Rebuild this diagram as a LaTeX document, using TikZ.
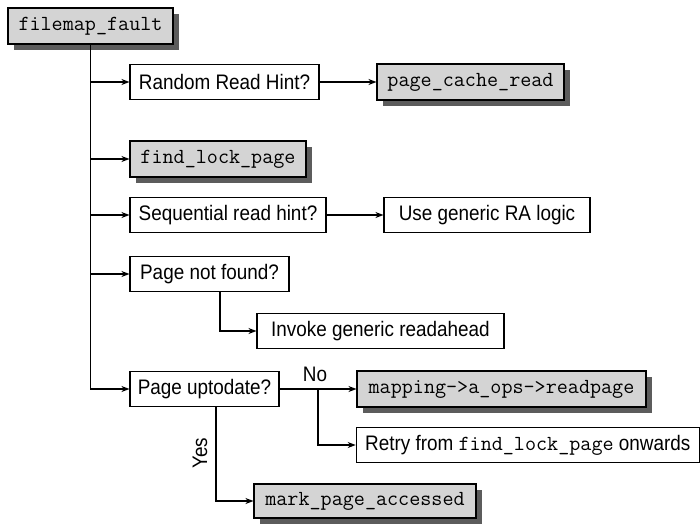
\documentclass[tikz,border=0pt]{standalone}
\usepackage{fontspec}
\setmainfont{Liberation Sans}[FakeStretch=0.9]
\usetikzlibrary{arrows.meta,shadows}
\definecolor{boxgray}{HTML}{D4D4D4}
\definecolor{shadowgray}{HTML}{5C5C5C}
\begin{document}
\begin{tikzpicture}[x=1pt,y=-1pt,
  box/.style={draw, line width=1.1pt, minimum height=35pt, inner sep=0pt, fill=white,
    font=\fontsize{21}{24}\selectfont},
  cbox/.style={box, minimum height=36pt, fill=boxgray, font=\fontsize{21.5}{24}\selectfont\ttfamily,
    drop shadow={shadow xshift=6pt, shadow yshift=-6pt, fill=shadowgray, opacity=1}},
  arr/.style={-{Stealth[length=8pt,width=6pt,inset=2.5pt]}, line width=1.1pt},
  lbl/.style={font=\fontsize{21}{24}\selectfont, inner sep=0pt}]
\useasboundingbox (0,0) rectangle (700,527);

\node[cbox, minimum width=165pt] (ff) at (90.5,26) {filemap\_fault};
\node[box, minimum width=189pt] (rr) at (224.5,82) {Random Read Hint?};
\node[cbox, minimum width=187pt] (pcr) at (470.5,82) {page\_cache\_read};
\node[cbox, minimum width=176pt] (flp) at (218,159) {find\_lock\_page};
\node[box, minimum width=196pt] (sq) at (228,215) {Sequential read hint?};
\node[box, minimum width=206pt] (ug) at (487,215) {Use generic RA logic};
\node[box, minimum width=159pt] (pnf) at (209.5,274) {Page not found?};
\node[box, minimum width=247pt] (inv) at (380.5,331) {Invoke generic readahead};
\node[box, minimum width=149pt] (pu) at (204.5,389) {Page uptodate?};
\node[cbox, minimum width=289pt] (map) at (501.5,389) {mapping->a\_ops->readpage};
\node[box, minimum width=343pt] (retry) at (527.75,445) {Retry from {\fontsize{21.5}{24}\selectfont\ttfamily find\_lock\_page} onwards};
\node[cbox, minimum width=222pt, minimum height=34pt] (mpa) at (365,501) {mark\_page\_accessed};

\draw[arr] (ff.south) |- (pu.west);
\draw[arr] (ff.south |- rr.west) -- (rr.west);
\draw[arr] (ff.south |- flp.west) -- (flp.west);
\draw[arr] (ff.south |- sq.west) -- (sq.west);
\draw[arr] (ff.south |- pnf.west) -- (pnf.west);
\draw[arr] (rr.east) -- (pcr.west);
\draw[arr] (sq.east) -- (ug.west);
\draw[arr] ([xshift=10.5pt]pnf.south) |- (inv.west);
\draw[arr] (pu.east) -- (map.west);
\coordinate (nb) at (318,389);
\draw[arr] (nb) |- (retry.west);
\node[lbl] (no) at (315,374) {No};
\draw[arr] ([xshift=11.5pt]pu.south) |- (mpa.west);
\node[lbl, rotate=90] (yes) at (200,453) {Yes};
\end{tikzpicture}
\end{document}
